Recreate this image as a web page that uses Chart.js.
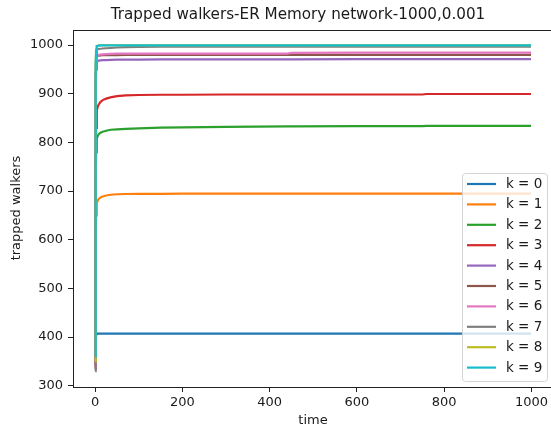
<!DOCTYPE html>
<html>
<head>
<meta charset="utf-8">
<script src="https://cdn.jsdelivr.net/npm/chart.js@4.4.1/dist/chart.umd.min.js"></script>
<style>
html,body{margin:0;padding:0;background:#fff;overflow:hidden;}
canvas{display:block;}
</style>
</head>
<body>
<canvas id="c" width="551" height="431"></canvas>
<script>
// ---- data ----
const chartTitle = "Trapped walkers-ER Memory network-1000,0.001";
const xLabel = "time";
const yLabel = "trapped walkers";
const xTicks = [0, 200, 400, 600, 800, 1000];
const yTicks = [300, 400, 500, 600, 700, 800, 900, 1000];
const labels = ["k = 0","k = 1","k = 2","k = 3","k = 4","k = 5","k = 6","k = 7","k = 8","k = 9"];
const colors = ["#1f77b4","#ff7f0e","#2ca02c","#d62728","#9467bd","#8c564b","#e377c2","#7f7f7f","#bcbd22","#17becf"];
const times = [0,1,2,3,4,6,8,12,17,25,35,50,70,100,150,200,300,440,450,600,750,760,999];
const k0 = [360,404,406,407,407,407,407,407,407,407,407,407,407,407,407,407,407,407,407,407,407,407,407];
const k1 = [345,600,650,668,676,681,684,687,689,691,692.5,693.5,694,694.5,694.5,695,695,695,695,695,695,695,695];
const k2 = [340,720,780,800,808,814,817,820,822,824,826,827,828,829,830.5,831,832,833,833,833.5,833.5,834,834];
const k3 = [335,750,830,855,866,874,878,883,887,890,892.5,895,896.5,897.5,898,898,898.5,898.5,898.5,898.5,898.5,899.5,899.5];
const k4 = [350,900,950,962,965,967,968,968.5,969,969,969.5,970,970,970,970.5,970.5,970.5,970.5,970.5,971,971,971,971];
const k5 = [345,920,965,974,977,978,978.5,979,979.5,979.5,979.5,979.5,980,980,980,980,980,980,980,980,980,980,980];
const k6 = [340,920,966,975,978,979.5,980,980.5,981,981.5,982,982.5,982.5,982.5,982.5,982.5,982.5,982.5,984,984.5,984.5,984.5,984.5];
const k7 = [330,940,980,988,990,991.5,992,992.5,993,993.5,994,995,996,996.5,997,997,997,997,997,997,997,997,997];
const k8 = [350,962,991,997,998.5,999,999.5,999.7,999.7,999.7,999.7,999.7,999.7,999.7,999.7,999.7,999.7,999.7,999.7,999.7,999.7,999.7,999.7];
const k9 = [360,960,989,996,998,998.5,999,999.5,999.5,999.5,999.5,999.5,999.5,999.5,999.5,999.5,999.5,999.5,999.5,999.5,999.5,999.5,999.5];
const series = [k0,k1,k2,k3,k4,k5,k6,k7,k8,k9];

const FONT = "'DejaVu Sans', 'Liberation Sans', sans-serif";
const TXT = "#1a1a1a";

const datasets = series.map((vals, i) => ({
  label: labels[i],
  data: times.map((t, j) => ({x: t, y: vals[j]})),
  borderColor: colors[i],
  backgroundColor: colors[i],
  borderWidth: 2.2,
  pointRadius: 0,
  tension: 0,
  fill: false,
  order: series.length - 1 - i   // later series drawn on top, as in the reference
}));

const decor = {
  id: 'decor',
  afterDraw(chart) {
    const ctx = chart.ctx;
    const a = chart.chartArea;
    ctx.save();
    // top spine
    ctx.strokeStyle = "#222";
    ctx.lineWidth = 1;
    ctx.beginPath();
    ctx.moveTo(a.left, a.top + 0.5);
    ctx.lineTo(a.right + 5, a.top + 0.5);
    ctx.stroke();
    // title
    ctx.fillStyle = TXT;
    ctx.textAlign = 'center';
    ctx.textBaseline = 'middle';
    ctx.font = "15.2px " + FONT;
    ctx.fillText(chartTitle, 298, 15);
    // axis labels
    ctx.font = "13px " + FONT;
    ctx.fillText(xLabel, 313, 421);
    ctx.save();
    ctx.translate(17, 208);
    ctx.rotate(-Math.PI / 2);
    ctx.fillText(yLabel, 0, 0);
    ctx.restore();
    // legend
    const lx = 462.5, ly = 173.5, lw = 85, lh = 208;
    ctx.beginPath();
    if (ctx.roundRect) ctx.roundRect(lx, ly, lw, lh, 3); else ctx.rect(lx, ly, lw, lh);
    ctx.fillStyle = "rgba(255,255,255,0.8)";
    ctx.fill();
    ctx.strokeStyle = "#d4d4d4";
    ctx.lineWidth = 1;
    ctx.stroke();
    ctx.font = "13.5px " + FONT;
    ctx.textAlign = 'left';
    chart.data.datasets.forEach((ds, i) => {
      const y = 184 + i * 20.4;
      ctx.strokeStyle = ds.borderColor;
      ctx.lineWidth = 2.2;
      ctx.beginPath();
      ctx.moveTo(467, y);
      ctx.lineTo(496, y);
      ctx.stroke();
      ctx.fillStyle = TXT;
      ctx.fillText(ds.label, 506, y + 0.5);
    });
    ctx.restore();
  }
};

const plain = v => String(v);

new Chart(document.getElementById('c'), {
  type: 'line',
  data: { datasets },
  options: {
    responsive: false,
    animation: false,
    events: [],
    layout: { padding: { top: 30, left: 0, right: 0, bottom: 0 } },
    plugins: { legend: { display: false }, title: { display: false }, tooltip: { enabled: false } },
    scales: {
      x: {
        type: 'linear',
        min: -51, max: 1043,
        afterBuildTicks: s => { s.ticks = xTicks.map(v => ({value: v})); },
        afterFit: s => { s.height = 44; },
        grid: { display: true, drawOnChartArea: false, drawTicks: true, tickLength: 5, color: "#222", tickWidth: 1 },
        border: { display: true, color: "#222", width: 1 },
        ticks: { color: TXT, font: { family: FONT, size: 13 }, padding: 3, maxRotation: 0, autoSkip: false, callback: plain }
      },
      y: {
        type: 'linear',
        min: 297.5, max: 1031,
        afterBuildTicks: s => { s.ticks = yTicks.map(v => ({value: v})); },
        afterFit: s => { s.width = 73; },
        grid: { display: true, drawOnChartArea: false, drawTicks: true, tickLength: 5, color: "#222", tickWidth: 1 },
        border: { display: true, color: "#222", width: 1 },
        ticks: { color: TXT, font: { family: FONT, size: 13 }, padding: 5, autoSkip: false, callback: plain }
      }
    }
  },
  plugins: [decor]
});
</script>
</body>
</html>
